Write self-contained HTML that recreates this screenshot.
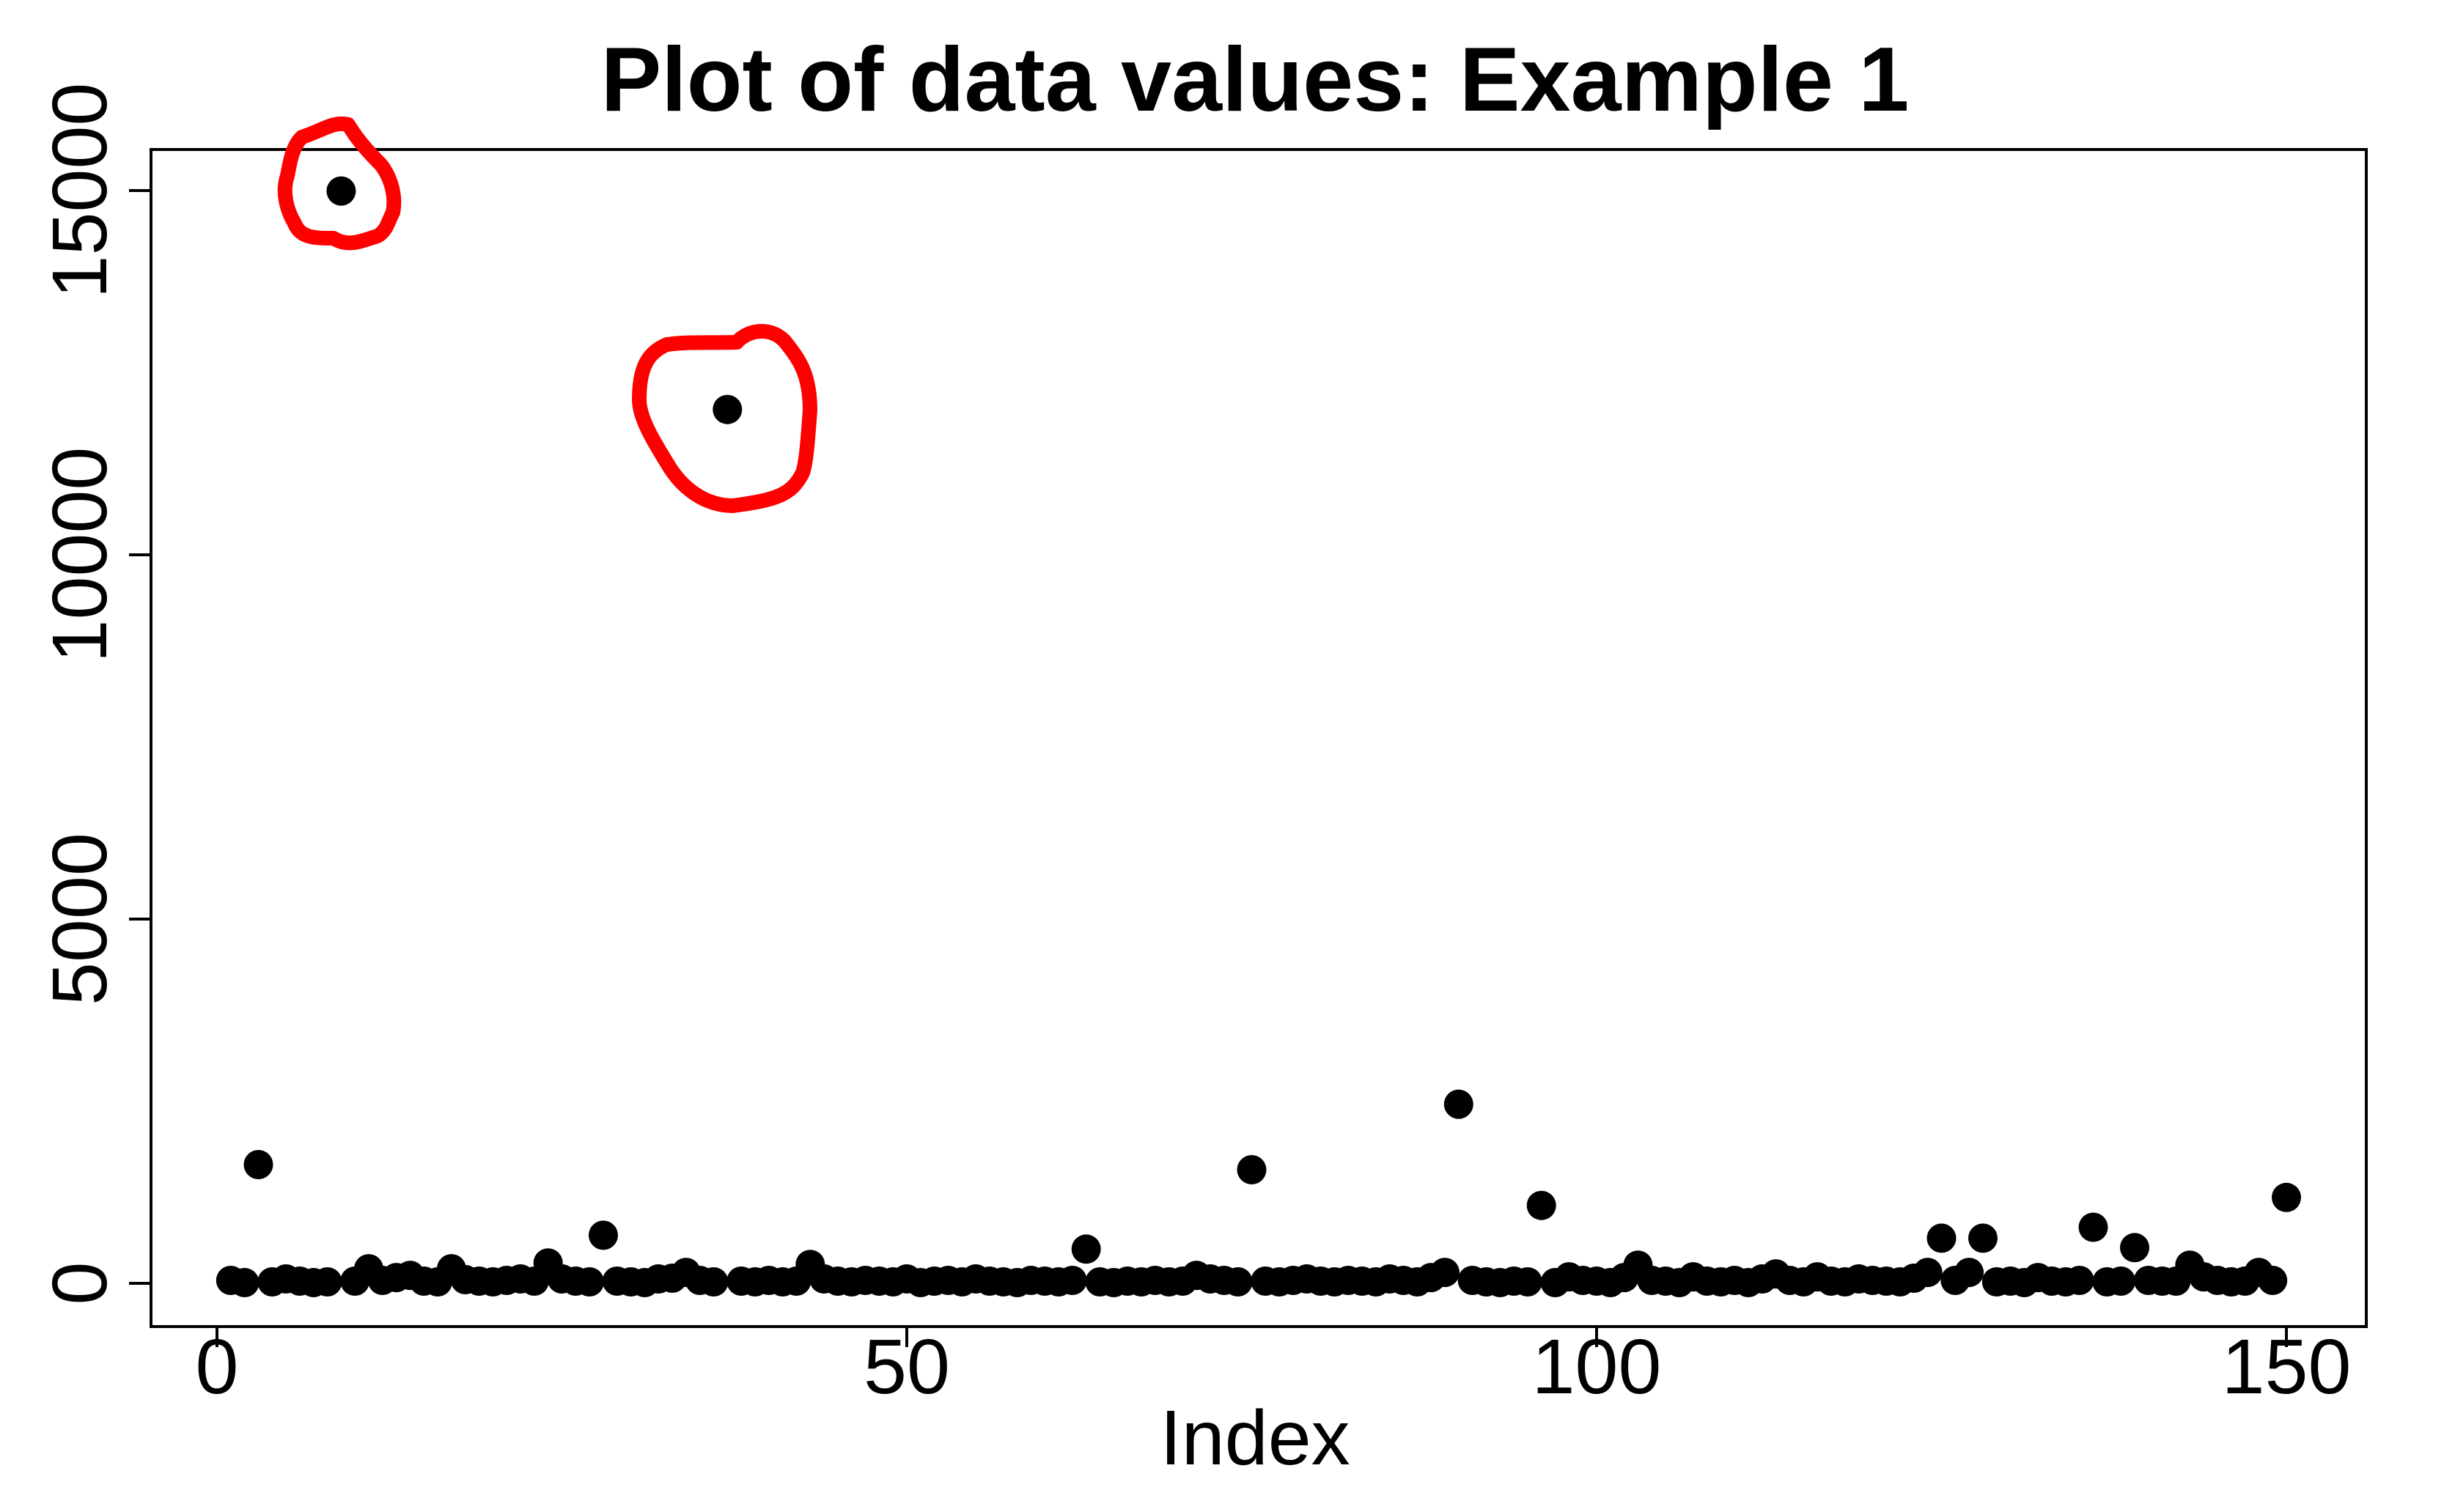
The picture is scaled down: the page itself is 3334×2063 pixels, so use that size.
<!DOCTYPE html>
<html><head><meta charset="utf-8"><style>
html,body{margin:0;padding:0;background:#fff;}
svg{display:block;}
text{font-family:"Liberation Sans",Arial,sans-serif;fill:#000;}
</style></head><body>
<svg id="s" width="3334" height="2063" viewBox="0 0 3334 2063" xmlns="http://www.w3.org/2000/svg">
<rect width="3334" height="2063" fill="#fff"/>
<text x="1712" y="151" font-size="124" font-weight="bold" text-anchor="middle">Plot of data values: Example 1</text>
<rect x="206" y="204" width="3022" height="1606" fill="none" stroke="#000" stroke-width="4"/>
<g stroke="#000" stroke-width="4">
<line x1="176" y1="1751" x2="206" y2="1751"/>
<line x1="176" y1="1254" x2="206" y2="1254"/>
<line x1="176" y1="757" x2="206" y2="757"/>
<line x1="176" y1="260" x2="206" y2="260"/>
<line x1="296" y1="1810" x2="296" y2="1838"/>
<line x1="1237" y1="1810" x2="1237" y2="1838"/>
<line x1="2178" y1="1810" x2="2178" y2="1838"/>
<line x1="3119" y1="1810" x2="3119" y2="1838"/>
</g>
<g font-size="106" text-anchor="middle">
<text transform="translate(145,1751) rotate(-90)">0</text>
<text transform="translate(145,1254) rotate(-90)">5000</text>
<text transform="translate(145,757) rotate(-90)">10000</text>
<text transform="translate(145,260) rotate(-90)">15000</text>
<text x="296" y="1901">0</text>
<text x="1237" y="1901">50</text>
<text x="2178" y="1901">100</text>
<text x="3119" y="1901">150</text>
<text x="1712" y="1998">Index</text>
</g>
<g id="pts" fill="#000"></g>
<g fill="none" stroke="#f00" stroke-width="20" stroke-linejoin="round" stroke-linecap="round">
<path d="M412,187 C440,178 455,165 475,170 C490,195 510,215 520,225 C535,245 540,270 536,290 C530,300 528,315 515,322 C495,328 475,338 455,325 C430,325 410,325 402,305 C390,285 385,260 392,240 C395,225 398,200 412,187 Z"/>
<path d="M1005,467 C1020,450 1050,445 1070,465 C1090,490 1105,510 1105,560 C1102,600 1100,630 1095,645 C1080,675 1060,682 1000,690 C965,690 935,670 915,640 C890,600 872,570 872,545 C872,500 885,480 910,470 C940,466 970,468 1005,467 Z"/>
</g>
</svg>
<script>
var vals=[40,10,1630,20,60,30,10,20,15000,30,200,40,80,110,30,20,200,50,30,20,40,60,30,280,60,30,20,660,30,20,10,60,70,150,40,20,12000,30,20,40,20,30,260,60,30,20,40,30,20,60,10,30,40,20,60,30,20,10,40,30,20,40,470,20,10,30,20,40,20,30,110,60,40,20,1560,30,20,40,60,30,20,40,30,20,60,40,20,80,150,2460,40,20,10,30,20,1070,10,90,40,30,10,80,250,40,30,10,90,30,20,40,10,60,130,40,20,90,30,20,60,40,30,20,70,150,620,40,150,620,20,30,10,80,30,20,40,770,20,30,490,40,30,30,250,90,40,20,30,150,40,1180];
var g=document.getElementById('pts'),h='';
for(var i=0;i<vals.length;i++){var x=296+(i+1)*18.82,y=1751-vals[i]*0.09936;h+='<circle cx="'+x.toFixed(1)+'" cy="'+y.toFixed(1)+'" r="20"/>';}
g.innerHTML=h;
</script>
</body></html>
